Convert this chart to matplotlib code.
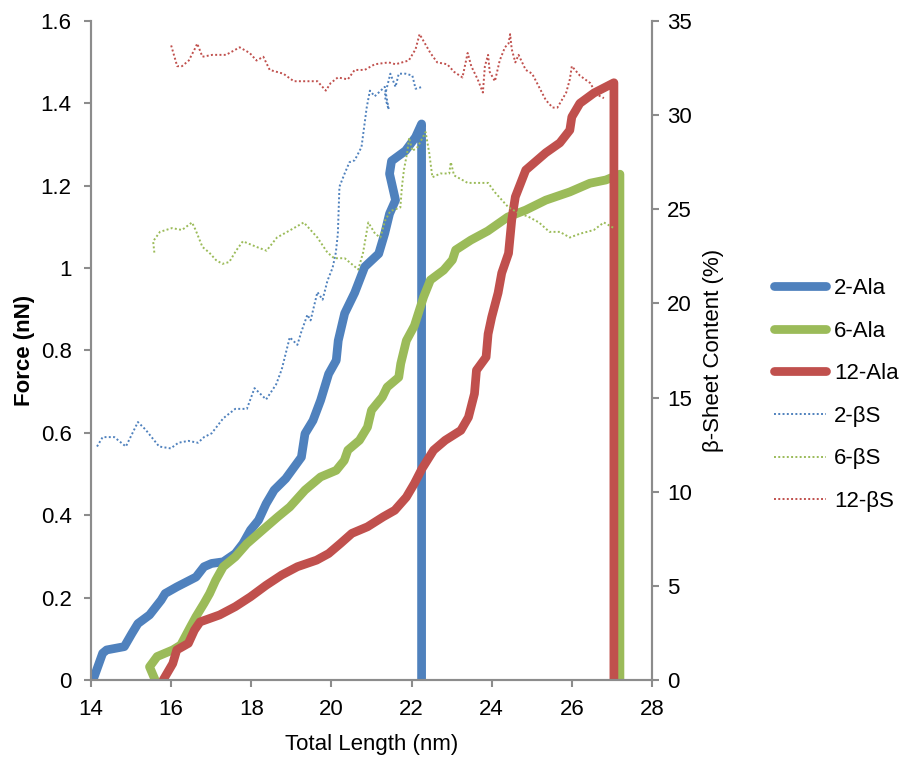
import matplotlib
matplotlib.use("Agg")
import matplotlib.pyplot as plt
import numpy as np

# ── Force-extension curves (left axis, nN) ──────────────────────────────────
len_2ala = [14.05, 14.29, 14.39, 14.83, 15.02, 15.17, 15.46, 15.75, 15.85, 16.14,
            16.62, 16.82, 17.01, 17.30, 17.60, 17.79, 17.98, 18.18, 18.37, 18.57,
            18.86, 19.25, 19.34, 19.54, 19.73, 19.93, 20.12, 20.17, 20.33, 20.58,
            20.83, 21.18, 21.33, 21.45, 21.60, 21.45, 21.50, 21.85, 22.10, 22.25,
            22.25]
f_2ala = [0.000, 0.065, 0.073, 0.081, 0.113, 0.137, 0.158, 0.194, 0.210, 0.226,
          0.250, 0.275, 0.283, 0.287, 0.307, 0.331, 0.364, 0.388, 0.428, 0.461,
          0.489, 0.541, 0.598, 0.630, 0.679, 0.743, 0.776, 0.824, 0.890, 0.940,
          1.003, 1.035, 1.084, 1.132, 1.165, 1.229, 1.260, 1.285, 1.318, 1.350,
          0.000]

len_6ala = [15.60, 15.46, 15.65, 16.04, 16.24, 16.48, 16.62, 16.82, 16.96, 17.11,
            17.30, 17.60, 17.89, 18.28, 18.66, 18.96, 19.34, 19.73, 20.12, 20.32,
            20.41, 20.70, 20.90, 21.00, 21.27, 21.39, 21.68, 21.73, 21.87, 22.07,
            22.30, 22.47, 22.80, 23.02, 23.10, 23.48, 23.90, 24.40, 24.85, 25.35,
            25.95, 26.45, 26.85, 27.20, 27.20]
f_6ala = [0.000, 0.032, 0.057, 0.073, 0.085, 0.129, 0.154, 0.186, 0.210, 0.242,
          0.275, 0.299, 0.331, 0.364, 0.396, 0.420, 0.461, 0.493, 0.509, 0.533,
          0.558, 0.582, 0.614, 0.655, 0.687, 0.711, 0.735, 0.768, 0.824, 0.860,
          0.930, 0.971, 0.995, 1.020, 1.044, 1.068, 1.090, 1.124, 1.141, 1.165,
          1.185, 1.206, 1.214, 1.228, 0.000]

len_12ala = [15.80, 16.04, 16.14, 16.43, 16.58, 16.72, 17.21, 17.60, 17.98, 18.37,
             18.76, 19.15, 19.63, 19.93, 20.22, 20.51, 20.90, 21.29, 21.58, 21.87,
             22.07, 22.26, 22.55, 22.84, 23.23, 23.42, 23.57, 23.62, 23.86, 23.91,
             24.00, 24.16, 24.25, 24.42, 24.50, 24.59, 24.85, 25.35, 25.70, 25.95,
             26.00, 26.20, 26.55, 27.05, 27.05]
f_12ala = [0.000, 0.040, 0.073, 0.089, 0.121, 0.141, 0.158, 0.178, 0.202, 0.230,
           0.255, 0.275, 0.291, 0.307, 0.331, 0.356, 0.372, 0.396, 0.412, 0.444,
           0.477, 0.513, 0.558, 0.582, 0.606, 0.638, 0.695, 0.752, 0.784, 0.840,
           0.881, 0.940, 0.988, 1.036, 1.117, 1.173, 1.238, 1.280, 1.304, 1.335,
           1.367, 1.400, 1.425, 1.450, 0.000]

# ── β-sheet content (right axis, %) ─────────────────────────────────────────
len_2bs = [14.15, 14.29, 14.58, 14.87, 15.17, 15.36, 15.70, 15.99, 16.18, 16.43,
           16.67, 16.82, 17.01, 17.30, 17.60, 17.89, 18.08, 18.37, 18.62, 18.76,
           18.96, 19.15, 19.25, 19.40, 19.48, 19.65, 19.78, 19.90, 20.03, 20.11,
           20.16, 20.20, 20.33, 20.45, 20.58, 20.75, 20.88, 20.96, 21.08, 21.33,
           21.43, 21.33, 21.47, 21.60, 21.68, 21.85, 22.02, 22.10, 22.27]
bs_2 = [12.4, 12.9, 12.9, 12.4, 13.7, 13.3, 12.4, 12.3, 12.6, 12.7,
        12.6, 12.9, 13.1, 13.9, 14.4, 14.4, 15.5, 14.9, 15.7, 16.5,
        18.2, 17.8, 18.5, 19.4, 19.1, 20.6, 20.2, 21.2, 21.9, 22.7,
        23.7, 26.2, 26.9, 27.5, 27.6, 28.3, 30.4, 31.3, 31.0, 31.5,
        30.3, 31.0, 32.2, 31.5, 32.2, 32.2, 32.1, 31.4, 31.5]

len_6bs = [15.58, 15.55, 15.72, 16.02, 16.27, 16.52, 16.61, 16.78, 16.95, 17.12,
           17.28, 17.45, 17.62, 17.79, 18.13, 18.38, 18.64, 18.98, 19.31, 19.65,
           19.90, 20.07, 20.33, 20.50, 20.67, 20.79, 20.92, 21.09, 21.22, 21.34,
           21.47, 21.72, 21.76, 21.81, 21.89, 21.94, 22.02, 22.15, 22.35, 22.44,
           22.52, 22.72, 22.94, 22.98, 23.06, 23.40, 23.65, 23.91, 24.08, 24.42,
           24.67, 24.92, 25.18, 25.44, 25.70, 25.95, 26.20, 26.55, 26.80, 27.05]
bs_6 = [22.7, 23.3, 23.8, 24.0, 23.9, 24.3, 23.9, 23.0, 22.7, 22.3,
        22.1, 22.2, 22.8, 23.3, 23.0, 22.8, 23.5, 23.9, 24.3, 23.5,
        22.7, 22.4, 22.4, 22.1, 21.8, 22.7, 24.3, 23.7, 23.5, 24.4,
        24.9, 25.1, 26.2, 27.1, 28.0, 28.8, 28.1, 28.3, 29.1, 28.0,
        26.7, 26.9, 26.9, 27.5, 26.8, 26.4, 26.4, 26.4, 25.9, 25.1,
        24.8, 24.6, 24.3, 23.8, 23.8, 23.5, 23.7, 23.9, 24.3, 24.0]

len_12bs = [16.00, 16.15, 16.27, 16.44, 16.61, 16.65, 16.78, 17.03, 17.37, 17.71,
            17.96, 18.13, 18.30, 18.46, 18.80, 19.06, 19.65, 19.86, 19.98, 20.16,
            20.41, 20.58, 20.83, 21.08, 21.43, 21.60, 21.93, 22.10, 22.20, 22.47,
            22.64, 22.89, 23.06, 23.27, 23.31, 23.40, 23.49, 23.65, 23.78, 23.83,
            23.91, 23.95, 24.08, 24.20, 24.33, 24.42, 24.46, 24.50, 24.59, 24.67,
            24.85, 25.01, 25.18, 25.35, 25.52, 25.64, 25.86, 25.95, 26.00, 26.20,
            26.46, 26.62, 26.80]
bs_12 = [33.7, 32.6, 32.6, 32.9, 33.6, 33.8, 33.1, 33.2, 33.2, 33.6,
         33.3, 32.9, 33.1, 32.4, 32.2, 31.8, 31.8, 31.3, 31.7, 32.0,
         31.9, 32.4, 32.4, 32.7, 32.8, 32.7, 32.9, 33.5, 34.3, 33.3,
         32.8, 32.7, 32.3, 32.0, 32.4, 33.3, 32.6, 31.9, 31.2, 32.6,
         33.2, 32.3, 31.8, 32.9, 33.6, 33.8, 34.3, 33.5, 32.8, 33.2,
         32.4, 32.2, 31.5, 30.8, 30.4, 30.4, 31.2, 31.9, 32.6, 32.1,
         31.7, 31.1, 30.9]

BLUE, GREEN, RED = "#4F81BD", "#9BBB59", "#C0504D"
AXIS_GREY = "#8C8C8C"
FS = 16

plt.rcParams.update({
    "font.family": ["Liberation Sans", "DejaVu Sans"],
    "font.size": FS,
})

fig = plt.figure(figsize=(9.04, 7.57), dpi=100)
ax = fig.add_axes([0.1007, 0.1017, 0.6205, 0.8706])
ax2 = ax.twinx()

thick = dict(linewidth=6.3, solid_capstyle="round", solid_joinstyle="round")
dots = dict(linewidth=1.4, linestyle=(0, (1, 1.2)))

h1, = ax.plot(len_2ala, f_2ala, color=BLUE, label="2-Ala", **thick)
h2, = ax.plot(len_6ala, f_6ala, color=GREEN, label="6-Ala", **thick)
h3, = ax.plot(len_12ala, f_12ala, color=RED, label="12-Ala", **thick)

h4, = ax2.plot(len_2bs, bs_2, color=BLUE, label="2-βS", **dots)
h5, = ax2.plot(len_6bs, bs_6, color=GREEN, label="6-βS", **dots)
h6, = ax2.plot(len_12bs, bs_12, color=RED, label="12-βS", **dots)

ax.set_xlim(14, 28)
ax.set_ylim(0, 1.6)
ax2.set_ylim(0, 35)
ax.set_xticks(np.arange(14, 29, 2))
ax.set_yticks(np.arange(0, 1.61, 0.2))
ax.set_yticklabels(["0", "0.2", "0.4", "0.6", "0.8", "1", "1.2", "1.4", "1.6"])
ax2.set_yticks(np.arange(0, 36, 5))

for a in (ax, ax2):
    a.spines["top"].set_visible(False)
    for side in ("left", "right", "bottom"):
        a.spines[side].set_color(AXIS_GREY)
        a.spines[side].set_linewidth(1.5)
    a.tick_params(direction="out", length=5, width=1.5, color=AXIS_GREY,
                  labelsize=FS)
ax.tick_params(axis="y", pad=9)
ax.tick_params(axis="x", pad=9)
ax2.tick_params(axis="y", pad=6)

ax.set_xlabel("Total Length (nm)", fontsize=FS, labelpad=10)
ax.set_ylabel("Force (nN)", fontsize=FS, fontweight="bold", labelpad=4)
ax2.set_ylabel("β-Sheet Content (%)", fontsize=FS, labelpad=8)

leg = fig.legend(handles=[h1, h2, h3, h4, h5, h6],
                 loc="upper left", bbox_to_anchor=(0.834, 0.659),
                 frameon=False, fontsize=FS, handlelength=2.35,
                 handletextpad=0.36, labelspacing=0.97)

fig.savefig("out.png", dpi=100, facecolor="white")
